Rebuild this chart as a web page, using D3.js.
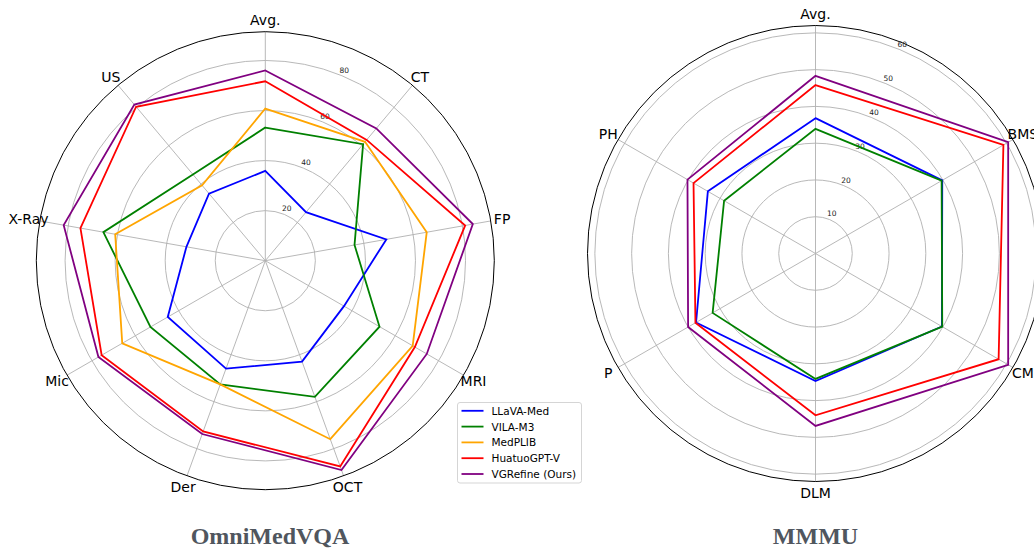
<!DOCTYPE html>
<html>
<head>
<meta charset="utf-8">
<script src="https://cdn.jsdelivr.net/npm/d3@7"></script>
<style>
  body { margin: 0; background: #fff; }
  svg { display: block; font-family: "DejaVu Sans", sans-serif; }
</style>
</head>
<body>
<svg id="chart" width="1034" height="548"></svg>
<script>
const models = ['LLaVA-Med', 'VILA-M3', 'MedPLIB', 'HuatuoGPT-V', 'VGRefine (Ours)'];
const colors = ['#0000ff', '#008000', '#ffa500', '#ff0000', '#800080'];

// OmniMedVQA
const omniAxes = ['Avg.', 'CT', 'FP', 'MRI', 'OCT', 'Der', 'Mic', 'X-Ray', 'US'];
const omniLlava = [35.9, 25.3, 49.1, 36.3, 42.9, 45.9, 45.0, 32.0, 35.0];
const omniVila = [53.2, 60.8, 36.2, 52.7, 57.9, 52.6, 53.0, 65.7, 45.0];
const omniMedplib = [60.8, 62.0, 65.5, 68.0, 75.9, 52.6, 66.0, 60.9, 39.3];
const omniHuatuo = [71.7, 63.0, 81.1, 69.0, 87.5, 72.6, 75.5, 75.0, 80.3];
const omniVgrefine = [76.0, 69.0, 84.2, 74.5, 89.0, 73.7, 77.0, 81.8, 81.4];
const omniTicks = [20, 40, 60, 80];

// MMMU
const mmmuAxes = ['Avg.', 'BMS', 'CM', 'DLM', 'P', 'PH'];
const mmmuLlava = [36.8, 39.8, 39.7, 34.7, 37.5, 33.8];
const mmmuVila = [33.9, 39.6, 39.8, 34.1, 32.3, 28.7];
const mmmuHuatuo = [45.8, 59.0, 57.5, 44.0, 37.7, 38.3];
const mmmuVgrefine = [48.3, 60.5, 60.5, 46.9, 40.0, 40.2];
const mmmuTicks = [10, 20, 30, 40, 50, 60];

const svg = d3.select('#chart');

function drawRadar(opts) {
  const g = svg.append('g').attr('transform', `translate(${opts.cx},${opts.cy})`);
  const r = d3.scaleLinear().domain([0, opts.max]).range([0, opts.radius]);
  const n = opts.axes.length;
  const angle = i => i * 2 * Math.PI / n;

  // grid rings
  g.selectAll('.ring').data(opts.ticks).enter().append('circle')
    .attr('r', d => r(d))
    .attr('fill', 'none')
    .attr('stroke', '#b0b0b0')
    .attr('stroke-width', 0.9);

  // spokes
  g.selectAll('.spoke').data(opts.axes).enter().append('line')
    .attr('x1', 0).attr('y1', 0)
    .attr('x2', (d, i) => opts.radius * Math.sin(angle(i)))
    .attr('y2', (d, i) => -opts.radius * Math.cos(angle(i)))
    .attr('stroke', '#b0b0b0')
    .attr('stroke-width', 0.9);

  // outer frame
  g.append('circle')
    .attr('r', opts.radius)
    .attr('fill', 'none')
    .attr('stroke', '#000')
    .attr('stroke-width', 1);

  // tick labels at 22.5 deg
  const la = 22.5 * Math.PI / 180;
  g.selectAll('.tick').data(opts.ticks).enter().append('text')
    .attr('x', d => (r(d) + 6) * Math.sin(la))
    .attr('y', d => -(r(d) + 6) * Math.cos(la))
    .attr('text-anchor', 'middle')
    .attr('dominant-baseline', 'central')
    .attr('font-size', 7.5)
    .attr('fill', '#222')
    .text(d => d);

  // series
  const line = d3.lineRadial()
    .angle((d, i) => angle(i))
    .radius(d => r(d))
    .curve(d3.curveLinearClosed);

  opts.series.forEach(s => {
    g.append('path')
      .attr('d', line(s.values))
      .attr('fill', 'none')
      .attr('stroke', s.color)
      .attr('stroke-width', 1.8)
      .attr('stroke-linejoin', 'miter');
  });

  // axis labels
  const lr = opts.radius * 1.05;
  g.selectAll('.axlab').data(opts.axes).enter().append('text')
    .attr('x', (d, i) => lr * Math.sin(angle(i)))
    .attr('y', (d, i) => -lr * Math.cos(angle(i)))
    .attr('text-anchor', 'middle')
    .attr('dominant-baseline', 'central')
    .attr('font-size', 14)
    .attr('fill', '#000')
    .text(d => d);

  // title
  svg.append('text')
    .attr('x', opts.titleX)
    .attr('y', 544)
    .attr('text-anchor', 'middle')
    .attr('font-family', '"Liberation Serif", "Times New Roman", serif')
    .attr('font-weight', 'bold')
    .attr('font-size', 24)
    .attr('fill', '#50565e')
    .text(opts.title);
}

drawRadar({
  cx: 265.3, cy: 260.7, radius: 229, max: 91.5,
  axes: omniAxes, ticks: omniTicks, title: 'OmniMedVQA', titleX: 270,
  series: [
    { values: omniLlava, color: colors[0] },
    { values: omniVila, color: colors[1] },
    { values: omniMedplib, color: colors[2] },
    { values: omniHuatuo, color: colors[3] },
    { values: omniVgrefine, color: colors[4] }
  ]
});

drawRadar({
  cx: 815.5, cy: 253.5, radius: 228, max: 62,
  axes: mmmuAxes, ticks: mmmuTicks, title: 'MMMU', titleX: 815.5,
  series: [
    { values: mmmuLlava, color: colors[0] },
    { values: mmmuVila, color: colors[1] },
    { values: mmmuHuatuo, color: colors[3] },
    { values: mmmuVgrefine, color: colors[4] }
  ]
});

// legend
const legend = svg.append('g').attr('transform', 'translate(457.5,402.5)');
legend.append('rect')
  .attr('width', 124).attr('height', 80.5)
  .attr('rx', 2.5)
  .attr('fill', '#fff').attr('fill-opacity', 0.85)
  .attr('stroke', '#d0d0d0').attr('stroke-width', 0.9);

const rows = legend.selectAll('.row').data(models).enter().append('g')
  .attr('transform', (d, i) => `translate(0,${8.3 + i * 15.8})`);
rows.append('line')
  .attr('x1', 4).attr('x2', 26)
  .attr('stroke', (d, i) => colors[i])
  .attr('stroke-width', 1.8);
rows.append('text')
  .attr('x', 34)
  .attr('dominant-baseline', 'central')
  .attr('font-size', 10.5)
  .attr('fill', '#000')
  .text(d => d);
</script>
</body>
</html>
